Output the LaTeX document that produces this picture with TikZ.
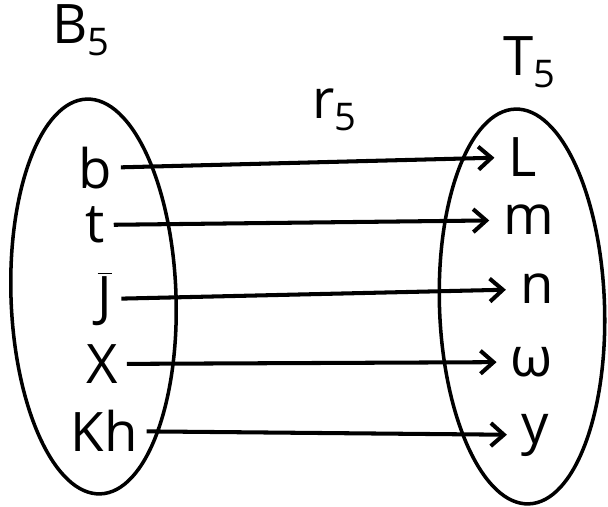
\documentclass[tikz,border=0pt]{standalone}
\usepackage{fontspec}
\setmainfont{Open Sans}
\usetikzlibrary{shapes.geometric,arrows.meta}

\begin{document}
\begin{tikzpicture}[
  set/.style={draw,ellipse,line width=2pt,minimum width=3.3cm,
              minimum height=7.9cm,inner sep=0pt,rotate=2},
  elem/.style={font=\fontsize{31}{36}\selectfont,inner sep=5pt},
  lbl/.style={font=\fontsize{31}{36}\selectfont,inner sep=0pt},
  arr/.style={-{Straight Barb[length=2.6mm,width=4.6mm]},line width=2.3pt,
              shorten >=3pt}]
  \useasboundingbox (0,0) rectangle (12.16,10.14);
  % the two sets
  \node[set] (setB) at (1.87,4.21) {};
  \node[set] (setT) at (10.44,4.01) {};
  \node[lbl] (nameB) at (1.62,9.54) {B\textsubscript{5}};
  \node[lbl] (nameT) at (10.6,8.9) {T\textsubscript{5}};
  \node[lbl] (nameR) at (6.7,7.94) {r\textsubscript{5}};
  % elements of B5
  \node[elem] (b)  at (1.9,6.78)  {b};
  \node[elem] (t)  at (1.9,5.64)  {t};
  \node[elem] (j)  at (2.1,4.16)  {$\overline{\hbox{J}}$};
  \node[elem] (x)  at (2.04,2.86) {X};
  \node[elem] (kh) at (2.08,1.52) {Kh};
  % elements of T5
  \node[elem] (l) at (10.46,7.0)  {L};
  \node[elem] (m) at (10.58,5.74) {m};
  \node[elem] (n) at (10.74,4.36) {n};
  \node[elem] (w) at (10.64,2.9)  {ω};
  \node[elem] (y) at (10.7,1.44)  {y};
  % the mapping
  \draw[arr] (b)--(l); \draw[arr] (t)--(m);
  \draw[arr] (j)--(n); \draw[arr] (x)--(w);
  \draw[arr] (kh)--(y);
\end{tikzpicture}
\end{document}
